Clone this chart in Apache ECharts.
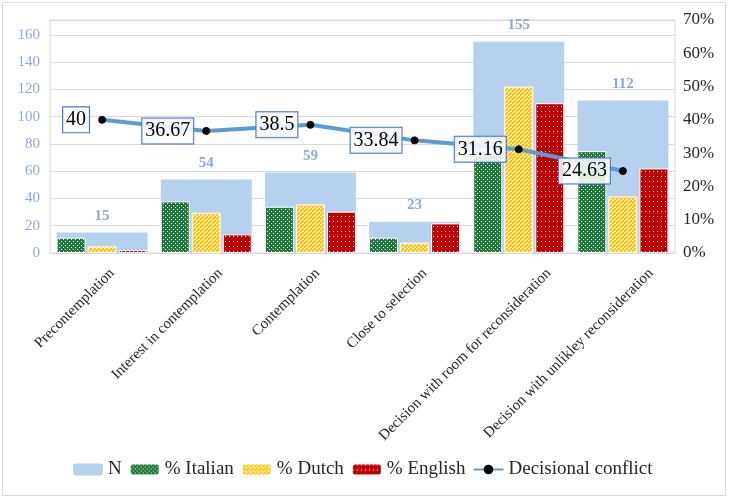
<!DOCTYPE html>
<html>
<head>
<meta charset="utf-8">
<script src="https://cdn.jsdelivr.net/npm/echarts@6/dist/echarts.min.js"></script>
<style>
  body { margin: 0; background: #fff; }
  #chart { width: 729px; height: 499px; }
  .frame { position: absolute; left: 2px; top: 2px; width: 722px; height: 492px;
           border: 1px solid #d9d9d9; pointer-events: none; }
</style>
</head>
<body>
<div id="chart"></div>
<div class="frame"></div>
<script>
// data
const stages = ['Precontemplation', 'Interest in contemplation', 'Contemplation',
  'Close to selection', 'Decision with room for reconsideration', 'Decision with unlikley reconsideration'];
const nValues = [15, 54, 59, 23, 155, 112];
const italianPct = [4.6, 15.5, 13.9, 4.6, 29.6, 30.6];
const dutchPct = [2.0, 12.1, 14.6, 3.1, 50.0, 17.0];
const englishPct = [0.9, 5.6, 12.4, 8.9, 45.0, 25.4];
const conflict = [40, 36.67, 38.5, 33.84, 31.16, 24.63];

const serif = '"Liberation Serif", "Times New Roman", serif';

// excel pushes the long rotated labels a bit to the right
const labelNudge = [10, 14, 7, 10, 30, 28];
const labelRich = {};
labelNudge.forEach(function (s, i) {
  const a = s / Math.SQRT2;
  labelRich['l' + i] = { fontFamily: serif, fontSize: 15, color: '#262626', padding: [2 * a, -a, 0, 0] };
});

// pattern fills, excel style
function makePattern(w, h, draw) {
  const c = document.createElement('canvas');
  c.width = w; c.height = h;
  draw(c.getContext('2d'));
  return { image: c, repeat: 'repeat' };
}
const greenFill = makePattern(4, 4, function (g) {
  g.fillStyle = '#1d7a3a'; g.fillRect(0, 0, 4, 4);
  g.fillStyle = '#ffffff';
  g.fillRect(1, 1, 1, 1); g.fillRect(3, 3, 1, 1);
});
const redFill = makePattern(4, 5, function (g) {
  g.fillStyle = '#c00000'; g.fillRect(0, 0, 4, 5);
  g.fillStyle = '#ffffff';
  g.fillRect(1, 1, 1, 1);
});
const yellowFill = makePattern(4, 4, function (g) {
  g.fillStyle = '#ffffff'; g.fillRect(0, 0, 4, 4);
  g.strokeStyle = '#ffc000'; g.lineWidth = 2;
  for (let k = -4; k <= 8; k += 4) {
    g.beginPath(); g.moveTo(k, 4); g.lineTo(k + 4, 0); g.stroke();
  }
});

const myChart = echarts.init(document.getElementById('chart'));

const pctBar = function (name, data, fill) {
  return {
    name: name, type: 'bar', xAxisIndex: 1, yAxisIndex: 1,
    barWidth: 29, barGap: '7%',
    itemStyle: { color: fill, borderColor: '#fff', borderWidth: 1 },
    data: data.map(v => v / 100)
  };
};

const option = {
  animation: false,
  grid: { left: 50, right: 54, top: 20, bottom: 246, show: true, borderColor: '#d9d9d9', borderWidth: 1 },
  legend: {
    left: 68, top: 455,
    itemWidth: 30, itemHeight: 12, itemGap: 7,
    textStyle: { fontFamily: serif, fontSize: 19, color: '#262626' },
    data: ['N', '% Italian', '% Dutch', '% English', 'Decisional conflict']
  },
  xAxis: [
    {
      type: 'category', data: stages,
      axisLine: { lineStyle: { color: '#d9d9d9' } },
      axisTick: { show: false },
      axisLabel: {
        rotate: 45, margin: 18, interval: 0, fontFamily: serif, fontSize: 15, color: '#262626',
        formatter: (v, i) => '{l' + i + '|' + v + '}',
        rich: labelRich
      }
    },
    { type: 'category', data: stages, show: false }
  ],
  yAxis: [
    {
      type: 'value', min: 0, max: 171, interval: 20,
      axisLine: { show: false }, axisTick: { show: false },
      splitLine: { lineStyle: { color: '#d9d9d9' } },
      axisLabel: {
        margin: 10, fontFamily: serif, fontSize: 15, color: '#8ea9db',
        formatter: v => (v % 20 === 0 ? String(v) : '')
      }
    },
    {
      type: 'value', min: 0, max: 0.7, interval: 0.1,
      axisLine: { show: false }, axisTick: { show: false }, splitLine: { show: false },
      axisLabel: {
        margin: 8, fontFamily: serif, fontSize: 17, color: '#262626',
        formatter: v => Math.round(v * 100) + '%'
      }
    }
  ],
  series: [
    {
      name: 'N', type: 'bar', barWidth: 91,
      itemStyle: { color: '#b6d1ee' },
      label: {
        show: true, position: 'top', distance: 9,
        fontFamily: serif, fontSize: 15, fontWeight: 'bold', color: '#8ea9db'
      },
      data: nValues
    },
    pctBar('% Italian', italianPct, greenFill),
    pctBar('% Dutch', dutchPct, yellowFill),
    pctBar('% English', englishPct, redFill),
    {
      name: 'Decisional conflict', type: 'line', yAxisIndex: 1,
      symbol: 'circle', symbolSize: 7,
      color: '#5b9bd5',
      lineStyle: { color: '#5b9bd5', width: 4 },
      itemStyle: { color: '#000', borderColor: '#000' },
      label: {
        show: true, position: 'left', distance: 9,
        formatter: p => String(conflict[p.dataIndex]),
        fontFamily: serif, fontSize: 20, color: '#000',
        backgroundColor: 'rgba(255,255,255,0.85)',
        borderColor: '#4472c4', borderWidth: 1, padding: [3, 3, 2, 3]
      },
      data: conflict.map(v => v / 100)
    }
  ]
};
myChart.setOption(option);
</script>
</body>
</html>
